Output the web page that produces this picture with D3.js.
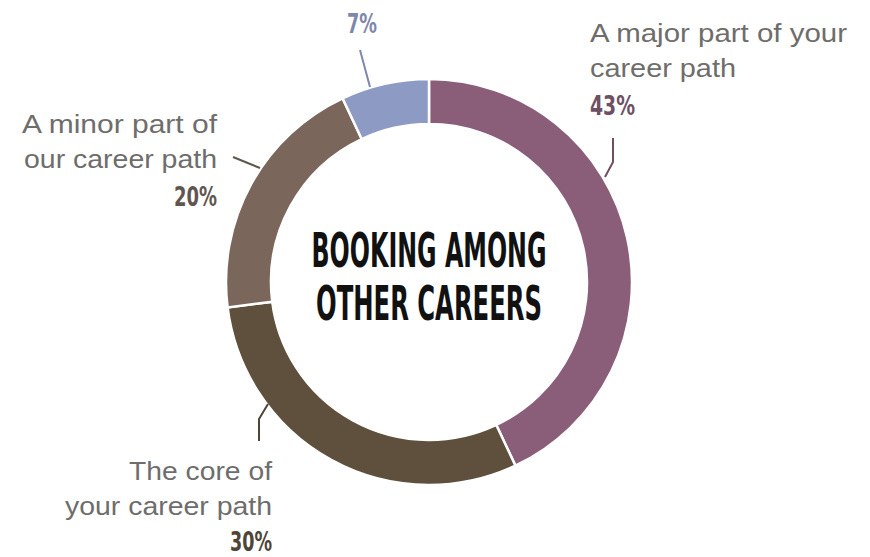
<!DOCTYPE html>
<html>
<head>
<meta charset="utf-8">
<script src="https://cdn.jsdelivr.net/npm/d3@7"></script>
<style>
  html, body { margin: 0; padding: 0; background: #ffffff; }
  svg { display: block; }
</style>
</head>
<body>
<svg id="chart" width="870" height="557"></svg>
<script>
// Share of respondents by how booking fits among other careers
const categories = ["A major part of your career path", "The core of your career path", "A minor part of our career path", "Other"];
const values = [43, 30, 20, 7];
const percentLabels = ["43%", "30%", "20%", "7%"];
const labelLines = [
  ["A major part of your", "career path"],
  ["The core of", "your career path"],
  ["A minor part of", "our career path"],
  []
];
const sliceColors = ["#8a5e78", "#5e503c", "#7a665b", "#8d9ac4"];
const percentColors = ["#6e5064", "#4e4536", "#5f5650", "#7f87ab"];
const titleLines = ["BOOKING AMONG", "OTHER CAREERS"];

const svg = d3.select("#chart");
const cx = 429, cy = 282;
const outerR = 203, innerR = 158;

const pie = d3.pie().value(d => d).sort(null);
const arcs = pie(values);
const arc = d3.arc().innerRadius(innerR).outerRadius(outerR);

const g = svg.append("g").attr("transform", `translate(${cx},${cy})`);

g.selectAll("path.slice")
  .data(arcs)
  .join("path")
  .attr("class", "slice")
  .attr("d", arc)
  .attr("fill", (d, i) => sliceColors[i])
  .attr("stroke", "#ffffff")
  .attr("stroke-width", 2.5);

// Centre title
const titleFont = "'Liberation Sans Narrow', 'DejaVu Sans Condensed', 'Liberation Sans', sans-serif";
g.selectAll("text.title")
  .data(titleLines)
  .join("text")
  .attr("class", "title")
  .attr("x", 0)
  .attr("y", (d, i) => -15 + i * 53)
  .attr("text-anchor", "middle")
  .attr("font-family", titleFont)
  .attr("font-weight", "bold")
  .attr("font-size", 48)
  .attr("fill", "#111111")
  .attr("textLength", (d, i) => i === 0 ? 235 : 226)
  .attr("lengthAdjust", "spacingAndGlyphs")
  .text(d => d);

// Label placement for each slice: anchor, text position, widths and leader path
const labelFont = "'Liberation Sans', 'DejaVu Sans', sans-serif";
const labelSpecs = [
  { anchor: "start", x: 590, y: 42, widths: [257, 146], pctW: 45, pctGap: 3,
    leader: [[613, 138], [613, 162], [605, 177]] },
  { anchor: "end", x: 272, y: 480, widths: [143, 207], pctW: 42, pctGap: 1,
    leader: [[259, 441], [259, 419], [268, 404]] },
  { anchor: "end", x: 217, y: 133, widths: [195, 193], pctW: 43, pctGap: 3,
    leader: [[233, 157], [260, 168]] },
  { anchor: "middle", x: 362, y: 33, widths: [], pctW: 30, pctGap: 0,
    leader: [[360, 50], [370, 87]] }
];

const labels = svg.append("g");
arcs.forEach((a, i) => {
  const spec = labelSpecs[i];
  const lines = labelLines[i];
  lines.forEach((line, j) => {
    labels.append("text")
      .attr("x", spec.x)
      .attr("y", spec.y + j * 35)
      .attr("text-anchor", spec.anchor)
      .attr("font-family", labelFont)
      .attr("font-size", 26)
      .attr("fill", "#6f6d6b")
      .attr("textLength", spec.widths[j])
      .attr("lengthAdjust", "spacingAndGlyphs")
      .text(line);
  });
  const pctY = lines.length ? spec.y + lines.length * 35 + spec.pctGap : spec.y;
  labels.append("text")
    .attr("x", spec.x)
    .attr("y", pctY)
    .attr("text-anchor", spec.anchor)
    .attr("font-family", titleFont)
    .attr("font-weight", "bold")
    .attr("font-size", 26)
    .attr("fill", percentColors[i])
    .attr("textLength", spec.pctW)
    .attr("lengthAdjust", "spacingAndGlyphs")
    .text(percentLabels[i]);

  labels.append("path")
    .attr("d", d3.line()(spec.leader))
    .attr("fill", "none")
    .attr("stroke", percentColors[i])
    .attr("stroke-width", 2);
});
</script>
</body>
</html>
